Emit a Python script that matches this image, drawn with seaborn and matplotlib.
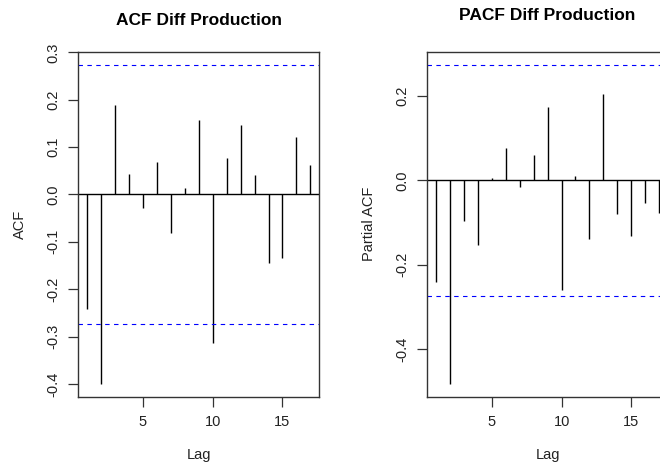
import matplotlib
matplotlib.use("Agg")
import matplotlib.pyplot as plt
import seaborn as sns
import numpy as np

lags = list(range(1, 18))
acf_values = [-0.242, -0.400, 0.188, 0.044, -0.029, 0.068, -0.082, 0.013, 0.157,
              -0.313, 0.077, 0.146, 0.041, -0.144, -0.135, 0.122, 0.063]
pacf_values = [-0.240, -0.482, -0.096, -0.152, 0.005, 0.077, -0.015, 0.059, 0.174,
               -0.259, 0.010, -0.138, 0.205, -0.080, -0.131, -0.053, -0.078]
conf_limit = 0.2745
acf_yticks = [-0.4, -0.3, -0.2, -0.1, 0.0, 0.1, 0.2, 0.3]
pacf_yticks = [-0.4, -0.2, 0.0, 0.2]
xticks = [5, 10, 15]
titles = ["ACF Diff Production", "PACF Diff Production"]
ylabels = ["ACF", "Partial ACF"]

sns.set_style("white")
plt.rcParams['font.family'] = ['Liberation Sans', 'DejaVu Sans']

fig = plt.figure(figsize=(6.6, 4.66), dpi=100)
ax1 = fig.add_axes([0.1186, 0.1487, 0.3652, 0.7403])
ax2 = fig.add_axes([0.6474, 0.1487, 0.3647, 0.7403])


def draw(ax, vals, yticks, title, ylabel, title_pad):
    vals = np.array(vals)
    ax.vlines(lags, 0, vals, color="black", lw=1.0)
    ax.axhline(0, color="black", lw=1.0)
    for c in (conf_limit, -conf_limit):
        ax.axhline(c, color="blue", lw=0.8, linestyle=(0, (4, 4)))
    ext = (max(lags) - min(lags)) * 0.04
    ax.set_xlim(min(lags) - ext, max(lags) + ext)
    lo = min(vals.min(), -conf_limit)
    hi = max(vals.max(), conf_limit)
    e = (hi - lo) * 0.04
    ax.set_ylim(lo - e, hi + e)
    ax.set_xticks(xticks)
    ax.set_xticklabels([str(t) for t in xticks], fontsize=10.5)
    ax.set_yticks(yticks)
    ax.set_yticklabels([f"{t:.1f}" for t in yticks], fontsize=10.5,
                       rotation=90, va="center")
    ax.tick_params(axis="both", direction="out", length=7, width=0.9,
                   color="#333333", labelcolor="#222222", pad=6,
                   left=True, bottom=True)
    for s in ax.spines.values():
        s.set_color("#333333")
        s.set_linewidth(1.0)
    ax.set_title(title, fontsize=12.5, fontweight="bold", pad=title_pad,
                 color="black")
    ax.set_ylabel(ylabel, fontsize=10.5, labelpad=14, color="#222222")
    ax.set_xlabel("Lag", fontsize=10.5, labelpad=14, color="#222222")


draw(ax1, acf_values, acf_yticks, titles[0], ylabels[0], 19)
draw(ax2, pacf_values, pacf_yticks, titles[1], ylabels[1], 23)

fig.savefig("out.png", dpi=100)
